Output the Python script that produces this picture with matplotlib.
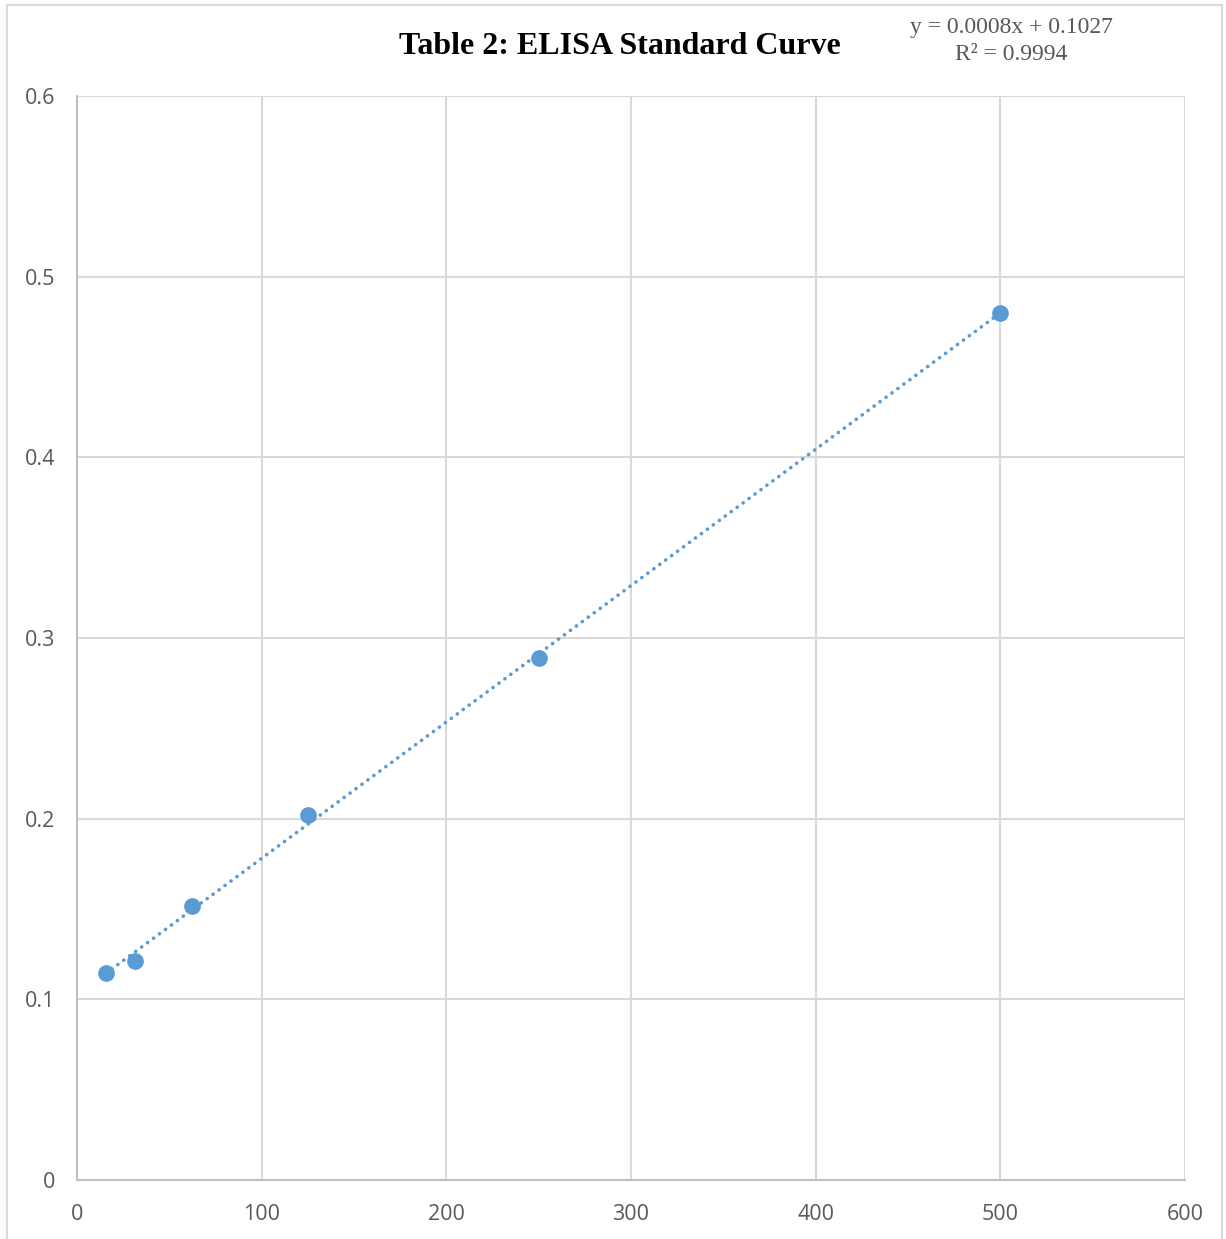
import numpy as np
import matplotlib
matplotlib.use("Agg")
import matplotlib.pyplot as plt
from matplotlib.patches import Rectangle

concentration = [15.625, 31.25, 62.5, 125, 250, 500]
absorbance = [0.1146, 0.1212, 0.1517, 0.2020, 0.2889, 0.4799]
x_ticks = [0, 100, 200, 300, 400, 500, 600]
y_ticks = [0, 0.1, 0.2, 0.3, 0.4, 0.5, 0.6]
title = "Table 2: ELISA Standard Curve"
eq_line1 = "y = 0.0008x + 0.1027"
eq_line2 = "R² = 0.9994"

W, H = 1226, 1239
fig = plt.figure(figsize=(W / 100, H / 100), dpi=100)
ax = fig.add_axes([77 / W, 1 - 1180 / H, (1185 - 77) / W, (1180 - 96) / H])

blue = "#5b9bd5"
grid = "#d9d9d9"

# trendline via least squares
coef = np.polyfit(concentration, absorbance, 1)
xs = np.array([min(concentration), max(concentration)])
ax.plot(xs, np.polyval(coef, xs), color=blue, lw=2.6, linestyle=(0, (0.05, 2.0)),
        dash_capstyle="round", zorder=2)
ax.plot(concentration, absorbance, "o", color=blue, markersize=11, zorder=3)

ax.set_xlim(0, 600)
ax.set_ylim(0, 0.6)
ax.set_xticks(x_ticks)
ax.set_yticks(y_ticks)
ax.set_xticklabels([str(v) for v in x_ticks])
ax.set_yticklabels(["0" if v == 0 else f"{v:.1f}" for v in y_ticks])
ax.grid(True, color=grid, lw=1.5)
ax.set_axisbelow(True)
for s in ["top", "right"]:
    ax.spines[s].set_visible(False)
for s in ["left", "bottom"]:
    ax.spines[s].set_color("#bfbfbf")
    ax.spines[s].set_linewidth(1.5)
ax.tick_params(length=0, labelsize=15.5, colors="#595959")
for lab in ax.get_xticklabels() + ax.get_yticklabels():
    lab.set_fontfamily("Open Sans")
ax.tick_params(axis="x", pad=17)
ax.tick_params(axis="y", pad=16)

fig.text(620 / W, 1 - 47 / H, title, ha="center", va="center",
         fontfamily="Liberation Serif", fontweight="bold", fontsize=23, color="black")
fig.text(1011 / W, 1 - 27 / H, eq_line1, ha="center", va="center",
         fontfamily="Liberation Serif", fontsize=17, color="#595959")
fig.text(1011 / W, 1 - 55 / H, eq_line2, ha="center", va="center",
         fontfamily="Liberation Serif", fontsize=17, color="#595959")

fig.patches.append(Rectangle((7 / W, -0.01), (1222 - 7) / W, 1 - 5 / H + 0.01,
                             transform=fig.transFigure, fill=False,
                             edgecolor=grid, lw=1.5))

fig.savefig("out.png", dpi=100)
